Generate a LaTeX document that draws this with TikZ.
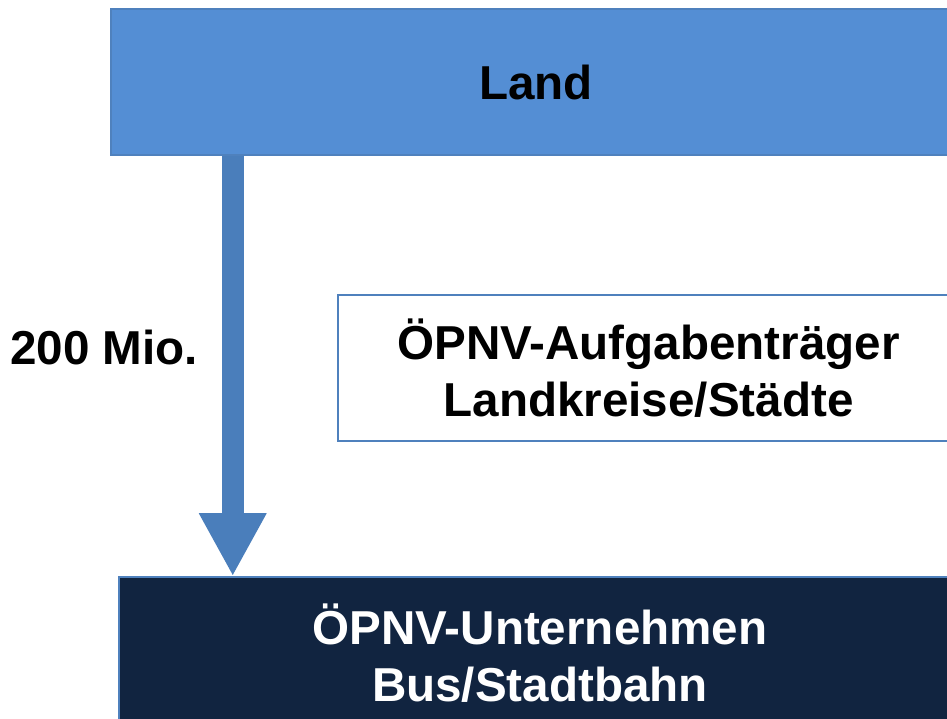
\documentclass[tikz,border=0pt]{standalone}
\usepackage{fontspec}
\setmainfont{Liberation Sans}
\usetikzlibrary{arrows.meta}
\definecolor{landblue}{RGB}{84,142,212}
\definecolor{landedge}{RGB}{79,129,189}
\definecolor{arrowblue}{RGB}{74,126,187}
\definecolor{navy}{RGB}{17,36,64}
\tikzset{
  box/.style={rectangle, inner sep=0pt, align=center, font=\fontsize{47.6}{57}\selectfont\bfseries},
  flow/.style={line width=22pt, draw=arrowblue, -{Triangle[width=63pt,length=63pt]}},
}
\begin{document}
\begin{tikzpicture}[x=1pt,y=1pt]
\useasboundingbox (0,0) rectangle (947,719);
\clip (0,0) rectangle (947,719);
\node[box, fill=landblue, draw=landedge, line width=1.5pt, minimum width=850pt, minimum height=146pt] (land) at (536,637) {Land};
\node[box, fill=white, draw=landedge, line width=2pt, minimum width=621pt, minimum height=146pt] (traeger) at (648.5,351) {ÖPNV-Aufgabenträger\\Landkreise/Städte};
\node[box, fill=navy, draw=landedge, line width=1.5pt, text=white, minimum width=842pt, minimum height=152pt] (bus) at (540,66) {ÖPNV-Unternehmen\\Bus/Stadtbahn};
\draw[flow] ([xshift=122.5pt]land.south west) -- ([xshift=114.5pt]bus.north west);
\node[font=\fontsize{47.6}{57}\selectfont\bfseries, inner sep=0pt] (mio) at (104,372) {200 Mio.};
\end{tikzpicture}
\end{document}
